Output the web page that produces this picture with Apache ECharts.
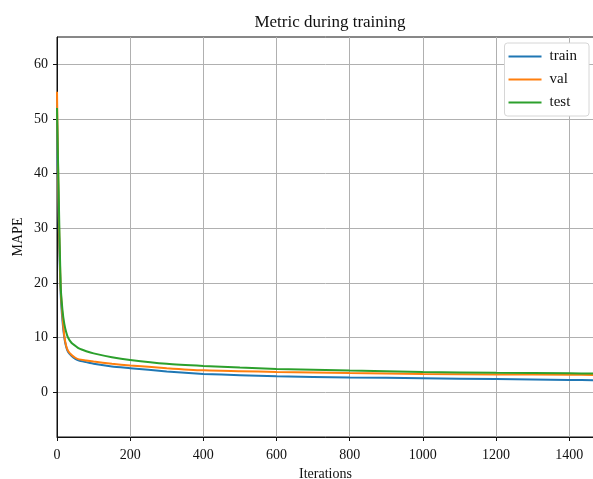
<!DOCTYPE html>
<html>
<head>
<meta charset="utf-8">
<script src="https://cdn.jsdelivr.net/npm/echarts@6/dist/echarts.min.js"></script>
<style>
  html, body { margin: 0; padding: 0; background: #fff; }
  #metric_chart { width: 593px; height: 479px; }
</style>
</head>
<body>
<div id="metric_chart"></div>
<script>
const iterations = [0, 5, 10, 15, 20, 25, 30, 40, 50, 60, 80, 100, 150, 200, 300, 400, 500, 600, 800, 1000, 1200, 1400, 1470];
const trainMape = [50, 30, 18, 13, 10, 8.3, 7.4, 6.6, 6.1, 5.8, 5.5, 5.2, 4.7, 4.4, 3.8, 3.35, 3.1, 2.9, 2.7, 2.55, 2.4, 2.25, 2.2];
const valMape = [55, 32, 19, 14, 10.3, 8.5, 7.6, 6.8, 6.3, 6.0, 5.8, 5.6, 5.2, 4.9, 4.4, 4.0, 3.85, 3.7, 3.5, 3.35, 3.25, 3.2, 3.15];
const testMape = [52, 35, 19.5, 15, 12.5, 11, 10, 9, 8.5, 8, 7.5, 7.1, 6.4, 5.9, 5.2, 4.8, 4.5, 4.25, 3.95, 3.7, 3.55, 3.45, 3.4];
const yTicks = [0, 10, 20, 30, 40, 50, 60];

const seriesNames = ['train', 'val', 'test'];
const seriesValues = [trainMape, valMape, testMape];
const colors = ['#1f77b4', '#ff7f0e', '#2ca02c'];
const font = 'Liberation Serif';
const ink = '#111';

const option = {
  animation: false,
  textStyle: { fontFamily: font },
  title: {
    text: 'Metric during training',
    left: 325,
    textAlign: 'center',
    top: 9,
    textStyle: { fontFamily: font, fontSize: 17, fontWeight: 'normal', color: ink }
  },
  legend: {
    orient: 'vertical',
    right: 4,
    top: 43,
    data: seriesNames,
    icon: 'rect',
    itemWidth: 33,
    itemHeight: 2,
    itemGap: 8,
    padding: [6, 12, 6, 4],
    backgroundColor: '#fff',
    borderColor: '#d6d6d6',
    borderWidth: 1,
    borderRadius: 3,
    textStyle: { fontFamily: font, fontSize: 15, color: ink, padding: [0, 0, 0, 3] }
  },
  grid: {
    left: 57,
    top: 37,
    right: -1,
    bottom: 42,
    containLabel: false,
    outerBoundsMode: 'none',
    show: true,
    borderColor: ink,
    borderWidth: 1
  },
  xAxis: {
    type: 'value',
    min: 0,
    max: 1468,
    interval: 200,
    name: 'Iterations',
    nameLocation: 'middle',
    nameGap: 28,
    nameTextStyle: { fontFamily: font, fontSize: 14, color: ink },
    axisLine: { onZero: false, lineStyle: { color: ink, width: 1 } },
    axisTick: { show: true, length: 4, lineStyle: { color: ink } },
    axisLabel: {
      fontFamily: font, fontSize: 14, color: ink, margin: 11, showMaxLabel: false,
      formatter: (v) => String(v)
    },
    splitLine: { show: true, lineStyle: { color: '#b0b0b0', width: 1 } }
  },
  yAxis: {
    type: 'value',
    min: -8.2,
    max: 65,
    name: 'MAPE',
    nameLocation: 'middle',
    nameGap: 32,
    nameMoveOverlap: false,
    nameTextStyle: { fontFamily: font, fontSize: 14, color: ink },
    axisLine: { show: true, onZero: false, lineStyle: { color: ink, width: 1 } },
    axisTick: { show: true, length: 4, lineStyle: { color: ink }, customValues: yTicks },
    axisLabel: { fontFamily: font, fontSize: 14, color: ink, margin: 9, customValues: yTicks },
    splitLine: { show: true, lineStyle: { color: '#b0b0b0', width: 1 } }
  },
  series: seriesNames.map((name, i) => ({
    name: name,
    type: 'line',
    showSymbol: false,
    smooth: 0.2,
    clip: true,
    lineStyle: { color: colors[i], width: 2 },
    itemStyle: { color: colors[i] },
    data: iterations.map((it, j) => [it, seriesValues[i][j]])
  }))
};

const chart = echarts.init(document.getElementById('metric_chart'));
chart.setOption(option);
</script>
</body>
</html>
